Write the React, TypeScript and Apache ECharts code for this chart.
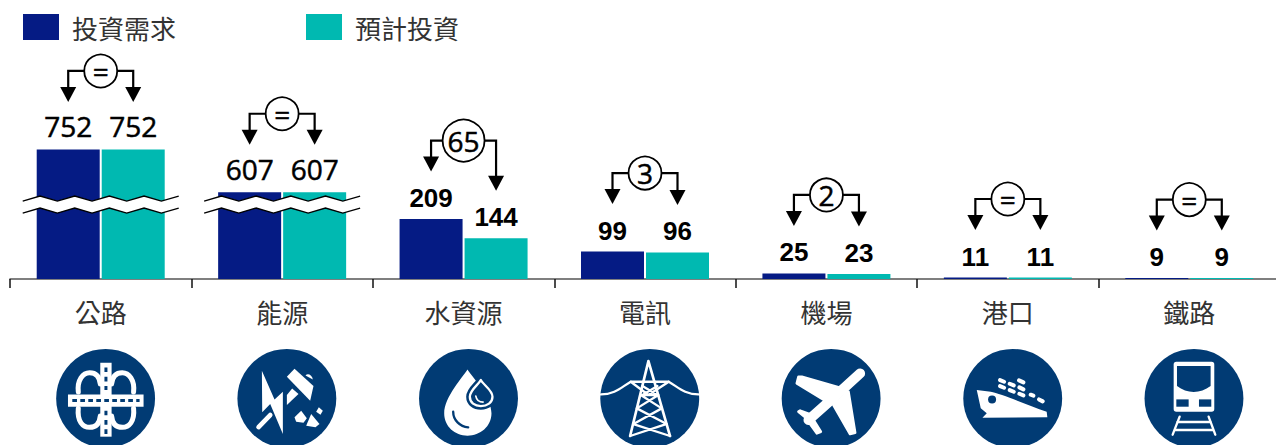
import React, { useEffect, useRef } from "react";
import * as echarts from "echarts";

const categories = ["公路", "能源", "水資源", "電訊", "機場", "港口", "鐵路"];
const demandValues = [752, 607, 209, 99, 25, 11, 9];
const plannedValues = [752, 607, 144, 96, 23, 11, 9];
const gapLabels = ["=", "=", "65", "3", "2", "=", "="];
const brokenCategories = [0, 1];
const seriesNames = ["投資需求", "預計投資"];

const NAVY = "#051B84";
const TEAL = "#00B9B1";
const ICON = "#013B74";
const LATIN = "'Open Sans', sans-serif";
const CJK = "'Noto Sans CJK TC', sans-serif";
const BOLD = "'Liberation Sans', Arial, sans-serif";
const BAR_W = 63;
const BAR_GAP = 2;
const BAR_OFFSET = (BAR_W + BAR_GAP) / 2;
const BREAK_FROM = 250;
const BREAK_TO = 557;

type Part = { d: string; fill?: string; stroke?: string; w?: number; dash?: number[] };
type Icon = { o: [number, number]; parts: Part[] };
const W = "#FFFFFF";
const ICONS: Icon[] = [
  {
    o: [318, 355],
    parts: [
      { d: "M236 336 C232 300 250 278 270 278 C290 278 300 290 302 312", stroke: W, w: 15 },
      { d: "M402 336 C406 300 388 278 368 278 C348 278 338 290 336 312", stroke: W, w: 15 },
      { d: "M236 385 C232 425 250 442 270 442 C290 442 300 430 302 408", stroke: W, w: 15 },
      { d: "M402 385 C406 425 388 442 368 442 C348 442 338 430 336 408", stroke: W, w: 15 },
      { d: "M302 248 H336 V470 H302 Z", fill: W },
      { d: "M205 343 H432 V380 H205 Z", fill: W },
      { d: "M218 361 H420", stroke: ICON, w: 9, dash: [14, 10] },
      { d: "M319 262 V330", stroke: ICON, w: 9, dash: [14, 14] },
      { d: "M319 392 V462", stroke: ICON, w: 9, dash: [14, 14] },
    ],
  },
  {
    o: [862, 355],
    parts: [
      { d: "M787 272 L825 358 L850 335 L850 462 L812 372 L788 397 Z", fill: W },
      { d: "M777 441 L812 405", stroke: W, w: 14 },
      { d: "M885 266 L942 318 L932 362 L862 290 Z", fill: W },
      { d: "M918 286 C925 278 938 285 940 298 Z", fill: W },
      { d: "M862 345 L878 325 L897 342 L862 375 Z", fill: W },
      { d: "M905 392 L922 415 L912 428 L890 425 L885 412 Z", fill: W },
      { d: "M935 402 L960 432 L948 442 L920 437 Z", fill: W },
      { d: "M958 382 L970 392 L963 404 L950 395 Z", fill: W },
    ],
  },
  {
    o: [206, 355],
    parts: [
      { d: "M203 268 C190 290 133 350 133 400 C133 440 165 467 203 467 C241 467 275 440 275 400 C275 350 216 290 203 268 Z", fill: W },
      { d: "M160 395 C160 420 180 440 205 442", stroke: ICON, w: 7 },
      { d: "M243 300 C235 315 210 330 210 350 C210 368 225 378 243 378 C262 378 278 368 278 350 C278 330 251 315 243 300 Z", fill: ICON, stroke: ICON, w: 22 },
      { d: "M243 300 C235 315 210 330 210 350 C210 368 225 378 243 378 C262 378 278 368 278 350 C278 330 251 315 243 300 Z", fill: ICON, stroke: W, w: 7 },
      { d: "M228 348 C230 360 238 366 250 366", stroke: W, w: 5 },
    ],
  },
  {
    o: [749, 355],
    parts: [
      { d: "M603 343 C645 343 665 320 692 305 L806 305 C833 320 853 343 895 343", stroke: W, w: 7 },
      { d: "M745 243 L690 468 M745 243 L810 468", stroke: W, w: 8 },
      {
        d: "M692 305 L745 345 M806 305 L745 345 M727 318 L772 345 M772 318 L727 345 M722 345 L775 345 M722 345 L785 385 M775 345 L710 385 M710 385 L800 432 M785 385 L700 432 M700 432 L810 468 M798 432 L690 468",
        stroke: W,
        w: 7,
      },
    ],
  },
  {
    o: [893, 355],
    parts: [
      { d: "M980 280 L890 362 L825 420", stroke: W, w: 30 },
      { d: "M795 290 L805 290 L925 325 L880 365 L790 310 Z", fill: W, stroke: W, w: 8 },
      { d: "M945 335 L965 458 L950 462 L900 375 Z", fill: W, stroke: W, w: 8 },
      { d: "M795 395 L800 392 L850 410 L832 425 Z", fill: W, stroke: W, w: 8 },
      { d: "M840 420 L862 455 L850 460 L830 432 Z", fill: W, stroke: W, w: 8 },
    ],
  },
  {
    o: [396, 355],
    parts: [
      { d: "M288 330 L330 335 C360 340 440 375 498 395 L500 412 L305 413 L318 400 L300 385 Z", fill: W },
      { d: "M322 358 A12 12 0 1 1 346 358 A12 12 0 1 1 322 358 Z", fill: ICON },
      {
        d: "M358 300 L370 305 M415 301 L428 307 M358 318 L370 323 M387 311 L399 316 M416 322 L428 328 M387 330 L399 335 M416 341 L428 346 M475 358 L486 364 M450 344 L458 347",
        stroke: W,
        w: 12,
      },
    ],
  },
  {
    o: [941, 355],
    parts: [
      { d: "M888 245 H994 A8 8 0 0 1 1002 253 V387 A8 8 0 0 1 994 395 H888 A8 8 0 0 1 880 387 V253 A8 8 0 0 1 888 245 Z", fill: W },
      { d: "M890 258 H991 V318 C960 342 920 342 890 318 Z", fill: ICON },
      { d: "M888 358 H925 V380 H888 Z", fill: ICON },
      { d: "M956 358 H993 V380 H956 Z", fill: ICON },
      { d: "M898 410 L877 464 M985 410 L1005 464", stroke: W, w: 7 },
      { d: "M892 426 H990 M884 450 H998", stroke: W, w: 7 },
    ],
  },
];

const renderIcon = (_p: any, api: any) => {
  const i = api.value(0);
  const [x] = api.coord([i, 0]);
  const icon = ICONS[i];
  const cx = x + 5;
  const cy = 398.5;
  return {
    type: "group",
    x: cx - icon.o[0] / 3,
    y: cy - icon.o[1] / 3,
    scaleX: 1 / 3,
    scaleY: 1 / 3,
    children: [
      { type: "circle", shape: { cx: icon.o[0], cy: icon.o[1], r: 148.5 }, style: { fill: ICON } },
      ...icon.parts.map((p) => ({
        type: "path",
        shape: { pathData: p.d },
        style: {
          fill: p.fill || "none",
          stroke: p.stroke || "none",
          lineWidth: p.w || 0,
          lineCap: p.dash ? "butt" : "round",
          lineJoin: "round",
          lineDash: p.dash,
        },
      })),
    ],
  };
};

const renderBreak = (_p: any, api: any) => {
  const i = api.value(0);
  const [x, y] = api.coord([i, BREAK_FROM]);
  const upper: number[][] = [];
  const lower: number[][] = [];
  for (let k = 0; k <= 9; k++) {
    const px = x - 78 + (k * 156) / 9;
    const dy = k % 2 === 0 ? 0 : -5;
    upper.push([px, y - 6 + dy]);
    lower.push([px, y + 6 + dy]);
  }
  return {
    type: "group",
    children: [
      { type: "polygon", shape: { points: [...upper, ...lower.slice().reverse()] }, style: { fill: "#FFFFFF" } },
      { type: "polyline", shape: { points: upper }, style: { fill: "none", stroke: "#000", lineWidth: 1.3 } },
      { type: "polyline", shape: { points: lower }, style: { fill: "none", stroke: "#000", lineWidth: 1.3 } },
    ],
  };
};

const renderBracket = (_p: any, api: any) => {
  const i = api.value(0);
  const a = api.value(1);
  const b = api.value(2);
  const label = gapLabels[i];
  const [cx] = api.coord([i, a]);
  const topA = api.coord([i, a])[1];
  const topB = api.coord([i, b])[1];
  const tipA = topA - 47.5;
  const tipB = topB - 47.5;
  const cy = Math.min(tipA, tipB) - 31;
  const r = label.length > 1 ? 21 : 16.5;
  const lx = cx - BAR_OFFSET;
  const rx = cx + BAR_OFFSET;
  const line = { fill: "none", stroke: "#000", lineWidth: 2.2 };
  const head = { fill: "#000" };
  return {
    type: "group",
    children: [
      { type: "polyline", shape: { points: [[cx, cy], [lx, cy], [lx, tipA - 10]] }, style: line },
      { type: "polyline", shape: { points: [[cx, cy], [rx, cy], [rx, tipB - 10]] }, style: line },
      { type: "polygon", shape: { points: [[lx - 8, tipA - 15], [lx + 8, tipA - 15], [lx, tipA]] }, style: head },
      { type: "polygon", shape: { points: [[rx - 8, tipB - 15], [rx + 8, tipB - 15], [rx, tipB]] }, style: head },
      { type: "circle", shape: { cx, cy, r }, style: { fill: "#FFF", stroke: "#000", lineWidth: 1.8 } },
      {
        type: "text",
        style: {
          text: label,
          x: cx,
          y: cy,
          align: "center",
          verticalAlign: "middle",
          fontSize: 28,
          fontFamily: LATIN,
          fill: "#000",
          stroke: "#000",
          lineWidth: 0.5,
        },
      },
    ],
  };
};

const barData = (values: number[]) =>
  values.map((value, i) => ({
    value,
    label: brokenCategories.includes(i)
      ? { fontFamily: LATIN, fontSize: 28, distance: 9.5, textBorderColor: "#000", textBorderWidth: 0.5 }
      : { fontFamily: BOLD, fontWeight: "bold" as const, fontSize: 26, distance: 8 },
  }));

export default function App() {
  const ref = useRef<HTMLDivElement>(null);
  useEffect(() => {
    document.body.style.margin = "0";
    document.body.style.background = "#fff";
    const chart = echarts.init(ref.current!, undefined, { renderer: "svg" });
    chart.setOption({
      animation: false,
      backgroundColor: "#ffffff",
      grid: { left: 10, top: 76.3, width: 1270, height: 202.7, containLabel: false },
      legend: {
        left: 23,
        top: 14,
        padding: 0,
        itemWidth: 36,
        itemHeight: 26,
        itemGap: 130,
        data: seriesNames,
        selectedMode: false,
        icon: "rect",
        textStyle: { fontSize: 26, fontFamily: CJK, color: "#333", padding: [0, 0, 2, 8] },
      },
      xAxis: {
        type: "category",
        data: categories,
        axisLine: { lineStyle: { color: "#555", width: 1.5 } },
        axisTick: { show: true, length: 9, lineStyle: { color: "#111", width: 1.5 } },
        axisLabel: { interval: 0, margin: 19, fontSize: 26, fontFamily: CJK, color: "#333" },
      },
      yAxis: {
        type: "value",
        show: false,
        min: 6,
        max: 1000,
        splitLine: { show: false },
        breaks: [{ start: BREAK_FROM, end: BREAK_TO, gap: 0 }],
        breakArea: { show: false },
      },
      series: [
        {
          name: seriesNames[0],
          type: "bar",
          barWidth: BAR_W,
          barGap: `${(BAR_GAP / BAR_W) * 100}%`,
          data: barData(demandValues),
          itemStyle: { color: NAVY },
          label: { show: true, position: "top", color: "#000" },
        },
        {
          name: seriesNames[1],
          type: "bar",
          barWidth: BAR_W,
          data: barData(plannedValues),
          itemStyle: { color: TEAL },
          label: { show: true, position: "top", color: "#000" },
        },
        {
          type: "custom",
          silent: true,
          z: 5,
          clip: false,
          renderItem: renderBreak,
          encode: { x: 0, y: 1 },
          data: brokenCategories.map((i) => [i, BREAK_FROM]),
        },
        {
          type: "custom",
          silent: true,
          z: 6,
          clip: false,
          renderItem: renderBracket,
          encode: { x: 0, y: 1 },
          data: categories.map((_c, i) => [i, demandValues[i], plannedValues[i]]),
        },
        {
          type: "custom",
          silent: true,
          z: 6,
          clip: false,
          renderItem: renderIcon,
          encode: { x: 0, y: 1 },
          data: categories.map((_c, i) => [i, 6]),
        },
      ],
    });
    return () => chart.dispose();
  }, []);
  return (
    <div style={{ position: "absolute", left: 0, top: 0, width: 1276, height: 445, overflow: "hidden" }}>
      <div ref={ref} style={{ width: 1290, height: 445 }} />
    </div>
  );
}
